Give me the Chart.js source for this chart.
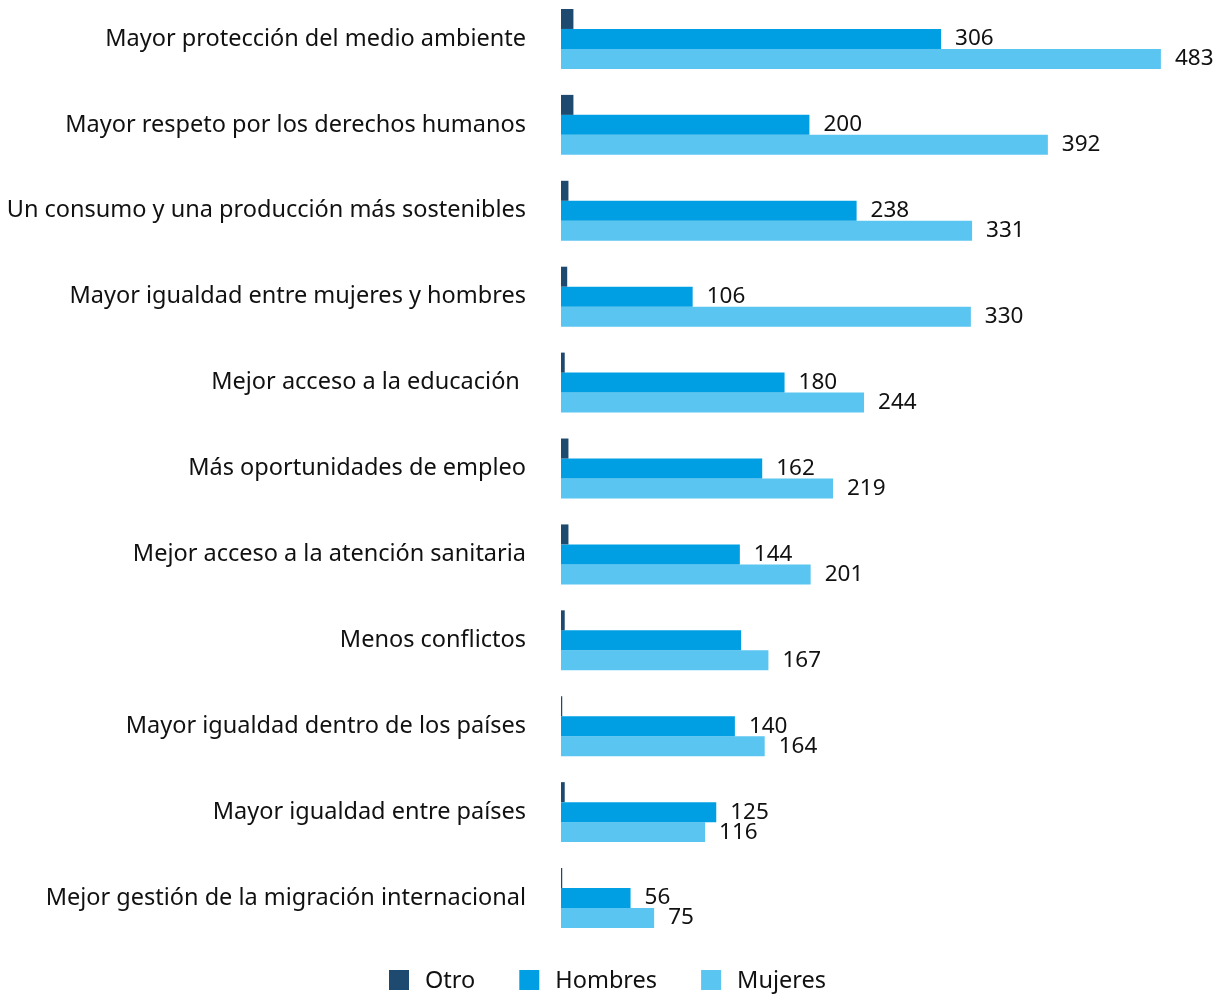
<!DOCTYPE html>
<html>
<head>
<meta charset="utf-8">
<script src="https://cdn.jsdelivr.net/npm/chart.js@4"></script>
<style>
  html, body { margin: 0; padding: 0; background: #fff; overflow: hidden; }
  #wrap { position: absolute; left: 0; top: -4px; width: 1223px; height: 999px; }
</style>
</head>
<body>
<div id="wrap"><canvas id="c"></canvas></div>
<script>
const categories = [
  "Mayor protección del medio ambiente",
  "Mayor respeto por los derechos humanos",
  "Un consumo y una producción más sostenibles",
  "Mayor igualdad entre mujeres y hombres",
  "Mejor acceso a la educación ",
  "Más oportunidades de empleo",
  "Mejor acceso a la atención sanitaria",
  "Menos conflictos",
  "Mayor igualdad dentro de los países",
  "Mayor igualdad entre países",
  "Mejor gestión de la migración internacional"
];
const otro = [10, 10, 6, 5, 3, 6, 6, 3, 1, 3, 1];
const hombres = [306, 200, 238, 106, 180, 162, 144, 145, 140, 125, 56];
const mujeres = [483, 392, 331, 330, 244, 219, 201, 167, 164, 116, 75];
// Hombres value labels not shown in the reference (by category index)
const hiddenHombresLabels = [7];
const seriesNames = ["Otro", "Hombres", "Mujeres"];
const colors = ["#1d4a6e", "#009fe3", "#5bc5f2"];

const FONT = "'Noto Sans', sans-serif";
const TEXT = "#111111";

const valueLabels = {
  id: 'valueLabels',
  afterDatasetsDraw(chart) {
    const ctx = chart.ctx;
    ctx.save();
    ctx.font = "22.5px " + FONT;
    ctx.fillStyle = TEXT;
    ctx.textAlign = "left";
    ctx.textBaseline = "middle";
    [1, 2].forEach(di => {
      const meta = chart.getDatasetMeta(di);
      meta.data.forEach((bar, i) => {
        if (di === 1 && hiddenHombresLabels.includes(i)) return;
        const v = chart.data.datasets[di].data[i];
        ctx.fillText(String(v), bar.x + 14, bar.y);
      });
    });
    ctx.restore();
  }
};

// Legend drawn below the plot, using the datasets' names and colours
const bottomLegend = {
  id: 'bottomLegend',
  afterDraw(chart) {
    const ctx = chart.ctx;
    const box = 20, gapText = 16, gapItem = 44;
    ctx.save();
    ctx.font = "23.5px " + FONT;
    ctx.textBaseline = "middle";
    ctx.textAlign = "left";
    const items = chart.data.datasets.map(ds => ({
      text: ds.label, color: ds.backgroundColor, w: ctx.measureText(ds.label).width
    }));
    let total = 0;
    items.forEach((it, i) => { total += box + gapText + it.w + (i ? gapItem : 0); });
    let x = (chart.width - total) / 2 - 4;
    const cy = chart.chartArea.bottom + 39;
    items.forEach(it => {
      ctx.fillStyle = it.color;
      ctx.fillRect(x, cy - box / 2, box, box);
      ctx.fillStyle = TEXT;
      ctx.fillText(it.text, x + box + gapText, cy + 1);
      x += box + gapText + it.w + gapItem;
    });
    ctx.restore();
  }
};

new Chart(document.getElementById('c'), {
  type: 'bar',
  data: {
    labels: categories,
    datasets: [
      { label: seriesNames[0], data: otro, backgroundColor: colors[0] },
      { label: seriesNames[1], data: hombres, backgroundColor: colors[1] },
      { label: seriesNames[2], data: mujeres, backgroundColor: colors[2] }
    ]
  },
  options: {
    indexAxis: 'y',
    responsive: true,
    maintainAspectRatio: false,
    animation: false,
    layout: { padding: { left: 0, right: 0, top: 0, bottom: 54 } },
    datasets: { bar: { categoryPercentage: 0.698, barPercentage: 1.0, borderWidth: 0 } },
    scales: {
      x: { display: false, min: 0, max: 533 },
      y: {
        grid: { display: false, drawTicks: false },
        border: { display: false },
        ticks: { color: TEXT, font: { family: FONT, size: 23.5 }, padding: 35 },
        afterFit(scale) {
          scale.width = 561;
          scale.paddingTop = 0;
          scale.paddingBottom = 0;
        }
      }
    },
    plugins: {
      legend: { display: false },
      tooltip: { enabled: false }
    }
  },
  plugins: [valueLabels, bottomLegend]
});
</script>
</body>
</html>
